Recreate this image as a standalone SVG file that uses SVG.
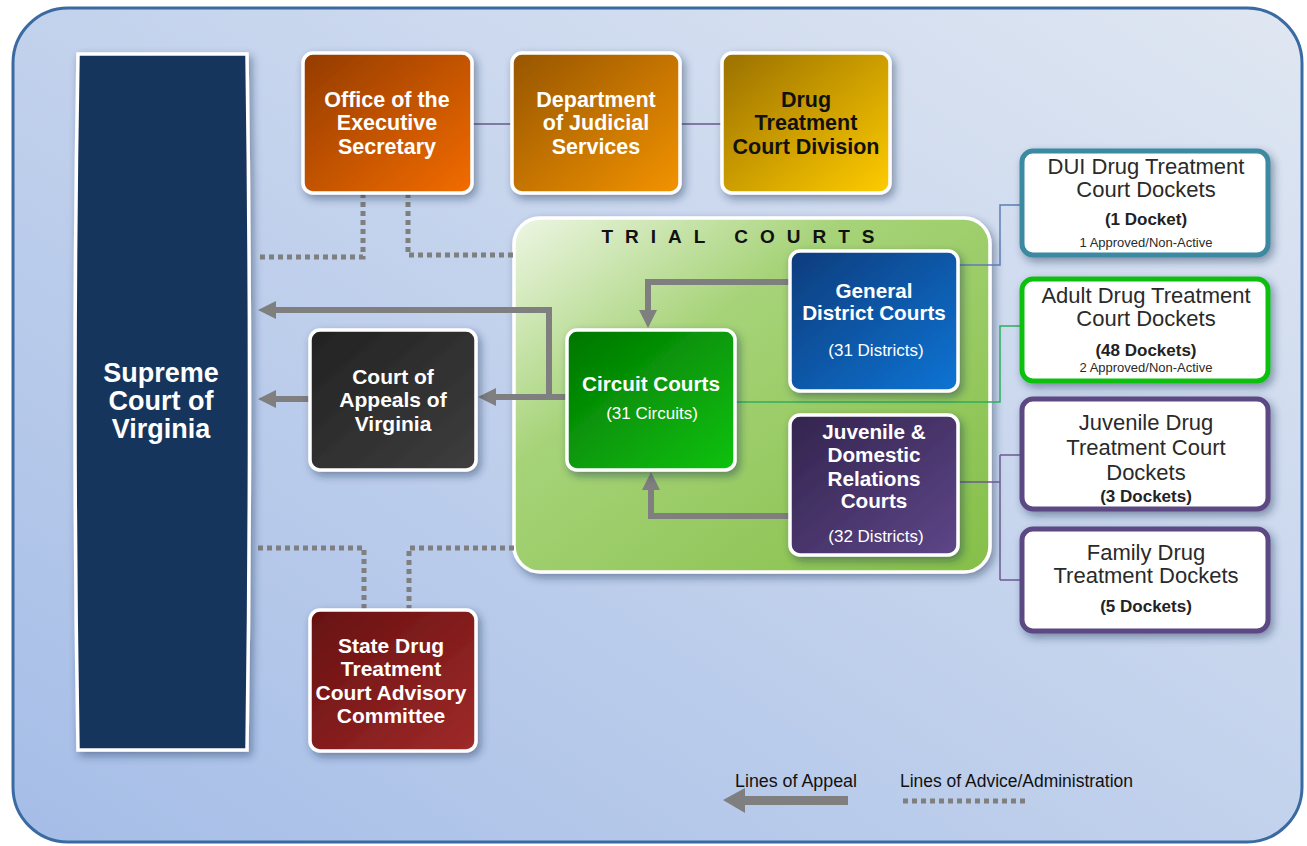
<svg xmlns="http://www.w3.org/2000/svg" width="1307" height="846" viewBox="0 0 1307 846">
<defs>
<linearGradient id="bg" x1="1" y1="0" x2="0" y2="1"><stop offset="0" stop-color="#e0e7f2"/><stop offset="1" stop-color="#a5bde7"/></linearGradient>
<linearGradient id="gOff" x1="0" y1="0" x2="1" y2="1"><stop offset="0" stop-color="#933b00"/><stop offset="1" stop-color="#f36c00"/></linearGradient>
<linearGradient id="gDep" x1="0" y1="0" x2="1" y2="1"><stop offset="0" stop-color="#965500"/><stop offset="1" stop-color="#f39300"/></linearGradient>
<linearGradient id="gDtc" x1="0" y1="0" x2="1" y2="1"><stop offset="0" stop-color="#9a7000"/><stop offset="1" stop-color="#ffcc00"/></linearGradient>
<linearGradient id="gApp" x1="0" y1="0" x2="1" y2="1"><stop offset="0" stop-color="#222"/><stop offset="1" stop-color="#3e3e3e"/></linearGradient>
<linearGradient id="gTrial" x1="0" y1="0" x2="1" y2="1"><stop offset="0" stop-color="#eef6e4"/><stop offset="0.35" stop-color="#a6d378"/><stop offset="1" stop-color="#85bf48"/></linearGradient>
<linearGradient id="gCir" x1="0" y1="0" x2="1" y2="1"><stop offset="0" stop-color="#007500"/><stop offset="1" stop-color="#12c212"/></linearGradient>
<linearGradient id="gGdc" x1="0" y1="0" x2="1" y2="1"><stop offset="0" stop-color="#0b3c7c"/><stop offset="1" stop-color="#0a74d4"/></linearGradient>
<linearGradient id="gJdr" x1="0" y1="0" x2="1" y2="1"><stop offset="0" stop-color="#33244e"/><stop offset="1" stop-color="#5e4688"/></linearGradient>
<linearGradient id="gSt" x1="0" y1="0" x2="1" y2="1"><stop offset="0" stop-color="#661010"/><stop offset="1" stop-color="#a02a2a"/></linearGradient>
<filter id="sh" x="-20%" y="-20%" width="140%" height="140%"><feDropShadow dx="3" dy="4" stdDeviation="4" flood-color="#1a2a50" flood-opacity="0.45"/></filter>
<marker id="ah" markerUnits="userSpaceOnUse" markerWidth="20" markerHeight="20" viewBox="0 0 20 20" refX="2" refY="10" orient="auto"><path d="M0,10 L18,1 L18,19 Z" fill="#7f7f7f" transform="rotate(180 10 10)"/></marker>
<style>
.box{stroke:#fff;stroke-width:3.5;filter:url(#sh)}
.wt{font-family:"Liberation Sans",Arial,sans-serif;font-weight:bold;fill:#fff;text-anchor:middle}
.wr{font-family:"Liberation Sans",Arial,sans-serif;fill:#fff;text-anchor:middle}
.dk{font-family:"Liberation Sans",Arial,sans-serif;fill:#2a2a2a;text-anchor:middle}
.db{font-family:"Liberation Sans",Arial,sans-serif;font-weight:bold;fill:#222;text-anchor:middle}
.app{fill:none;stroke:#7f7f7f;stroke-width:6}
.adv{fill:none;stroke:#7f7f7f;stroke-width:5;stroke-dasharray:5 4}
.dock{fill:#fff;stroke-width:5;filter:url(#sh)}
</style>
</defs>
<rect width="1307" height="846" fill="#fff"/>
<rect x="13" y="8" width="1289" height="834" rx="55" fill="url(#bg)" stroke="#3b6aa2" stroke-width="3"/>

<g id="trial-courts">
<rect x="514" y="218" width="476" height="354" rx="26" fill="url(#gTrial)" stroke="#fff" stroke-width="3.5" filter="url(#sh)"/>
<text x="744" y="243" font-family="Liberation Sans,Arial,sans-serif" font-weight="bold" font-size="19" letter-spacing="12" text-anchor="middle" fill="#111">TRIAL COURTS</text>
</g>

<g id="connectors">
<path class="adv" d="M363,193 V257 H258"/>
<path class="adv" d="M408,193 V255 H514"/>
<path class="adv" d="M258,548 H364 V610"/>
<path class="adv" d="M514,548 H409 V610"/>
<path class="app" d="M567,397 H496" marker-end="url(#ah)"/>
<path class="app" d="M310,399 H276" marker-end="url(#ah)"/>
<path class="app" d="M549,397 V310 H276" marker-end="url(#ah)"/>
<path class="app" d="M790,282 H648 V310" marker-end="url(#ah)"/>
<path class="app" d="M790,516 H651 V490" marker-end="url(#ah)"/>
<path d="M472,124 H512 M680,124 H722" fill="none" stroke="#6b5a8c" stroke-width="1.5"/>
<path d="M958,265 H1000 V205 H1022" fill="none" stroke="#5b7db5" stroke-width="1.5"/>
<path d="M735,402 H1000 V326 H1022" fill="none" stroke="#2fae5c" stroke-width="1.5"/>
<path d="M958,482 H1000 M1000,455 V580 M1000,455 H1022 M1000,580 H1022" fill="none" stroke="#6b5a92" stroke-width="1.5"/>
</g>

<g id="supreme">
<path class="box" d="M78,54 H247 Q252,402 247,750 H78 Q72,402 78,54 Z" fill="#17365d"/>
<text class="wt" font-size="27"><tspan x="161" y="382">Supreme</tspan><tspan x="161" y="410">Court of</tspan><tspan x="161" y="438">Virginia</tspan></text>
</g>

<g id="office">
<rect class="box" x="303" y="53" width="169" height="140" rx="10" fill="url(#gOff)"/>
<text class="wt" font-size="21.5"><tspan x="387" y="107">Office of the</tspan><tspan x="387" y="130">Executive</tspan><tspan x="387" y="154">Secretary</tspan></text>
</g>
<g id="dept">
<rect class="box" x="512" y="53" width="168" height="140" rx="10" fill="url(#gDep)"/>
<text class="wt" font-size="21.5"><tspan x="596" y="107">Department</tspan><tspan x="596" y="130">of Judicial</tspan><tspan x="596" y="154">Services</tspan></text>
</g>
<g id="dtc-division">
<rect class="box" x="722" y="53" width="168" height="140" rx="10" fill="url(#gDtc)"/>
<text class="db" font-size="21.5" style="fill:#111"><tspan x="806" y="107">Drug</tspan><tspan x="806" y="130">Treatment</tspan><tspan x="806" y="154">Court Division</tspan></text>
</g>

<g id="appeals">
<rect class="box" x="310" y="330" width="166" height="140" rx="10" fill="url(#gApp)"/>
<text class="wt" font-size="21"><tspan x="393" y="384">Court of</tspan><tspan x="393" y="407">Appeals of</tspan><tspan x="393" y="431">Virginia</tspan></text>
</g>

<g id="circuit">
<rect class="box" x="567" y="330" width="168" height="140" rx="10" fill="url(#gCir)"/>
<text class="wt" font-size="20.7"><tspan x="651" y="391">Circuit Courts</tspan></text>
<text class="wr" font-size="17" x="652" y="419">(31 Circuits)</text>
</g>

<g id="general-district">
<rect class="box" x="790" y="251" width="168" height="140" rx="10" fill="url(#gGdc)"/>
<text class="wt" font-size="20.7"><tspan x="874" y="298">General</tspan><tspan x="874" y="320">District Courts</tspan></text>
<text class="wr" font-size="17" x="876" y="356">(31 Districts)</text>
</g>

<g id="juvenile-domestic">
<rect class="box" x="790" y="415" width="168" height="140" rx="10" fill="url(#gJdr)"/>
<text class="wt" font-size="20.7"><tspan x="874" y="439">Juvenile &amp;</tspan><tspan x="874" y="462">Domestic</tspan><tspan x="874" y="486">Relations</tspan><tspan x="874" y="508">Courts</tspan></text>
<text class="wr" font-size="17" x="876" y="542">(32 Districts)</text>
</g>

<g id="state-committee">
<rect class="box" x="310" y="610" width="166" height="141" rx="10" fill="url(#gSt)"/>
<text class="wt" font-size="21"><tspan x="391" y="653">State Drug</tspan><tspan x="391" y="676">Treatment</tspan><tspan x="391" y="700">Court Advisory</tspan><tspan x="391" y="723">Committee</tspan></text>
</g>

<g id="dui-dockets">
<rect class="dock" x="1022" y="151" width="246" height="104" rx="11" stroke="#3a8aa2"/>
<text class="dk" font-size="22"><tspan x="1146" y="174">DUI Drug Treatment</tspan><tspan x="1146" y="197">Court Dockets</tspan></text>
<text class="db" font-size="17" x="1146" y="225">(1 Docket)</text>
<text class="dk" font-size="13" x="1146" y="247">1 Approved/Non-Active</text>
</g>
<g id="adult-dockets">
<rect class="dock" x="1022" y="279" width="246" height="102" rx="11" stroke="#11c011"/>
<text class="dk" font-size="22"><tspan x="1146" y="303">Adult Drug Treatment</tspan><tspan x="1146" y="326">Court Dockets</tspan></text>
<text class="db" font-size="17" x="1146" y="356">(48 Dockets)</text>
<text class="dk" font-size="13" x="1146" y="372">2 Approved/Non-Active</text>
</g>
<g id="juvenile-dockets">
<rect class="dock" x="1022" y="399" width="246" height="110" rx="11" stroke="#5b4884"/>
<text class="dk" font-size="22"><tspan x="1146" y="430">Juvenile Drug</tspan><tspan x="1146" y="455">Treatment Court</tspan><tspan x="1146" y="480">Dockets</tspan></text>
<text class="db" font-size="17" x="1146" y="502">(3 Dockets)</text>
</g>
<g id="family-dockets">
<rect class="dock" x="1022" y="529" width="246" height="102" rx="11" stroke="#5b4884"/>
<text class="dk" font-size="22"><tspan x="1146" y="560">Family Drug</tspan><tspan x="1146" y="583">Treatment Dockets</tspan></text>
<text class="db" font-size="17" x="1146" y="612">(5 Dockets)</text>
</g>

<g id="legend">
<text x="735" y="787" font-family="Liberation Sans,Arial,sans-serif" font-size="17.5" fill="#111" textLength="122" lengthAdjust="spacingAndGlyphs">Lines of Appeal</text>
<text x="900" y="787" font-family="Liberation Sans,Arial,sans-serif" font-size="17.5" fill="#111" textLength="233" lengthAdjust="spacingAndGlyphs">Lines of Advice/Administration</text>
<path d="M848,796 H745 V788 L723,800 L745,813 V805 H848 Z" fill="#7f7f7f"/>
<path d="M903,801 H1026" fill="none" stroke="#7f7f7f" stroke-width="5" stroke-dasharray="5 4"/>
</g>
</svg>
